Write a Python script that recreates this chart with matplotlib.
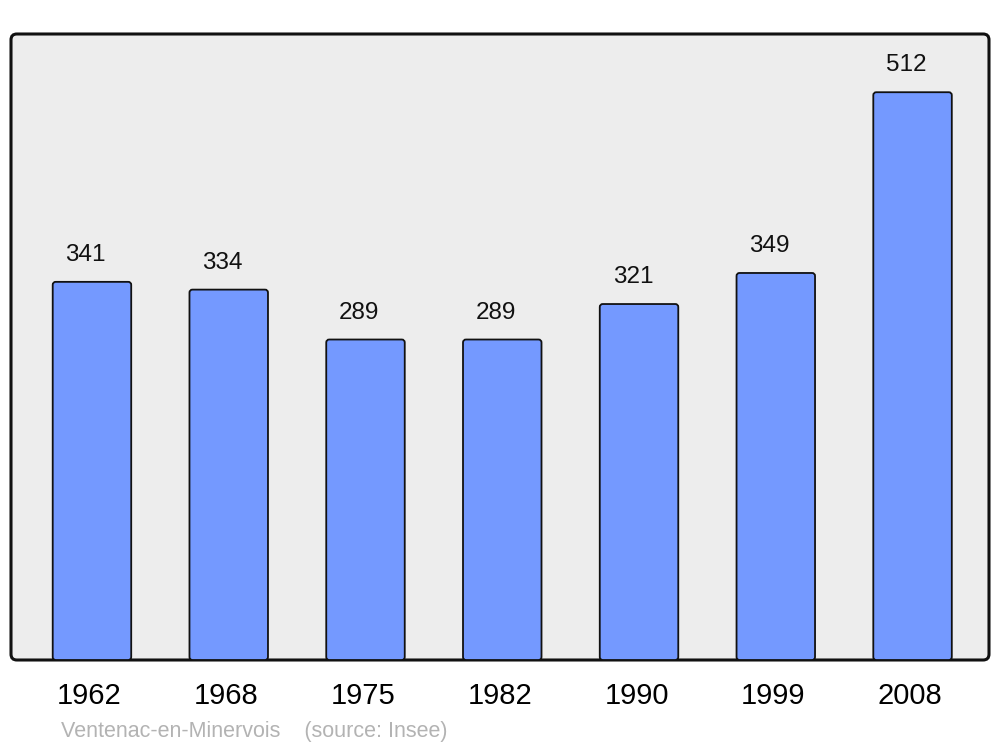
import matplotlib
matplotlib.use("Agg")
import matplotlib.pyplot as plt
import matplotlib.transforms as mtransforms
from matplotlib.patches import FancyBboxPatch

years = ["1962", "1968", "1975", "1982", "1990", "1999", "2008"]
population = [341, 334, 289, 289, 321, 349, 512]
place = "Ventenac-en-Minervois"
source = "(source: Insee)"

plt.rcParams['font.family'] = ['Liberation Sans', 'DejaVu Sans']

W, H = 1000, 747
fig = plt.figure(figsize=(W / 100, H / 100), dpi=100)
left, right, top, bottom = 11, 989, 34, 660
ax = fig.add_axes([left / W, 1 - bottom / H, (right - left) / W, (bottom - top) / H])
ax.set_facecolor('none')

# rounded frame
frame = FancyBboxPatch((0, 0), 1, 1, boxstyle="round,pad=0,rounding_size=0.006",
                       transform=ax.transAxes, facecolor='#ededed', edgecolor='#111111',
                       linewidth=2.2, zorder=0, clip_on=False, mutation_aspect=978 / 626)
ax.add_patch(frame)

xlim = (-0.592, 6.559)
ylim = (0, 564.5)
ax.set_xlim(*xlim)
ax.set_ylim(*ylim)

x = list(range(len(years)))
bars = ax.bar(x, population, width=0.574, color='#7499ff', edgecolor='#111111',
              linewidth=1.3, zorder=2)

# replace bars with slightly rounded ones
px_x = (xlim[1] - xlim[0]) / (right - left)
px_y = (ylim[1] - ylim[0]) / (bottom - top)
for b in bars:
    bx, by, bw, bh = b.get_x(), b.get_y(), b.get_width(), b.get_height()
    b.set_visible(False)
    rp = FancyBboxPatch((bx, by), bw, bh,
                        boxstyle="round,pad=0,rounding_size=%f" % (3 * px_x),
                        mutation_aspect=px_y / px_x, facecolor='#7499ff',
                        edgecolor='#111111', linewidth=1.3, zorder=2)
    ax.add_patch(rp)

for xi, v in zip(x, population):
    ax.annotate(str(v), (xi - 0.045, v), xytext=(0, 16), textcoords='offset pixels',
                ha='center', va='bottom', fontsize=17.5, color='#111111', zorder=3)

ax.set_xticks(x)
ax.set_xticklabels(years, fontsize=21)
ax.tick_params(axis='x', length=0, pad=16, colors='#000000')
shift = mtransforms.ScaledTranslation(-2.5 / 100, 0, fig.dpi_scale_trans)
for lab in ax.get_xticklabels():
    lab.set_transform(lab.get_transform() + shift)
ax.set_yticks([])
for s in ax.spines.values():
    s.set_visible(False)

fig.text(61 / W, 1 - 731 / H, place + "    " + source, fontsize=15.5, color='#b3b3b3',
         ha='left', va='center')

fig.savefig("out.png", dpi=100)
